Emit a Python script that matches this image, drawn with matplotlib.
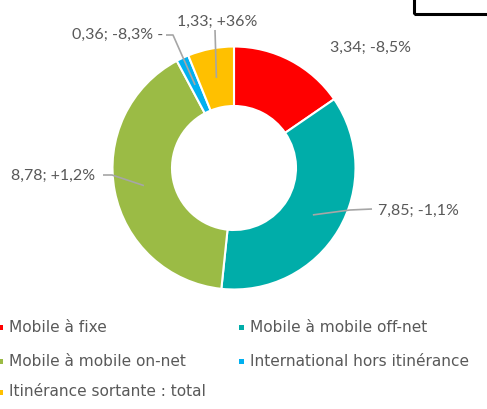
import numpy as np
import matplotlib
matplotlib.use("Agg")
import matplotlib.pyplot as plt
from matplotlib.patches import Rectangle

# Trafic par type d'appel
categories = [
    "Mobile à fixe",
    "Mobile à mobile off-net",
    "Mobile à mobile on-net",
    "International hors itinérance",
    "Itinérance sortante : total",
]
values = [3.34, 7.85, 8.78, 0.36, 1.33]
evolutions = ["-8,5%", "-1,1%", "+1,2%", "-8,3%", "+36%"]
colors = ["#FF0000", "#00ADA9", "#9BBB45", "#00B0F0", "#FFC000"]

W, H = 487, 409
fig = plt.figure(figsize=(W / 100, H / 100), dpi=100)
ax = fig.add_axes([0, 0, 1, 1])
ax.set_xlim(0, W)
ax.set_ylim(0, H)
ax.set_aspect("equal")
ax.axis("off")


def Y(y):
    return H - y


cx, cy = 234, 168
R_out, R_in = 121.5, 62
wedges, _ = ax.pie(
    values, colors=colors, startangle=90, counterclock=False,
    radius=R_out, center=(cx, Y(cy)), frame=True,
    wedgeprops=dict(width=R_out - R_in, edgecolor="white", linewidth=1.5),
)
ax.set_xlim(0, W)
ax.set_ylim(0, H)
ax.axis("off")

text_col = "#595959"
line_col = "#A6A6A6"
lab_font = dict(family=["Lato", "DejaVu Sans"], fontsize=11.5, color=text_col)


def fmt(v):
    return f"{v:.2f}".replace(".", ",")


# anchor of each leader line: middle of the ring at the wedge's mid angle
r_mid = (R_out + R_in) / 2
anchors = []
for w in wedges:
    a = np.deg2rad((w.theta1 + w.theta2) / 2)
    anchors.append((cx + r_mid * np.cos(a), Y(cy) + r_mid * np.sin(a)))

labels = [f"{fmt(v)}; {e}" for v, e in zip(values, evolutions)]
labels[3] = labels[3] + " -"

# (text x, text y, ha, leader path points before the anchor)
layout = [
    (330, 48, "left", None),
    (378, 211, "left", [(372, 209), (350, 210)]),
    (95, 176, "right", [(103, 175), (112, 175)]),
    (163, 35, "right", [(166, 35), (173, 35)]),
    (177, 22, "left", [(215, 30)]),
]

for (tx, ty, ha, path), lab, anc in zip(layout, labels, anchors):
    ax.text(tx, Y(ty), lab, ha=ha, va="center", **lab_font)
    if path:
        xs = [p[0] for p in path] + [anc[0]]
        ys = [Y(p[1]) for p in path] + [anc[1]]
        ax.plot(xs, ys, color=line_col, lw=1.2, solid_capstyle="butt")

# legend
leg_font = dict(family="DejaVu Sans", fontsize=11.1, color=text_col)
leg_pos = [(0, 327), (241, 327), (0, 361), (241, 361), (0, 392)]
for (lx, ly), c, name in zip(leg_pos, colors, categories):
    ax.add_patch(Rectangle((lx - 2, Y(ly) - 2.5), 5, 5, color=c, lw=0))
    ax.text(lx + 9, Y(ly), name, ha="left", va="center", **leg_font)

# frame corner at the top right
ax.add_patch(Rectangle((414, Y(14)), 100, 30, fill=False, edgecolor="black", lw=2.2))

fig.savefig("out.png", dpi=100)
